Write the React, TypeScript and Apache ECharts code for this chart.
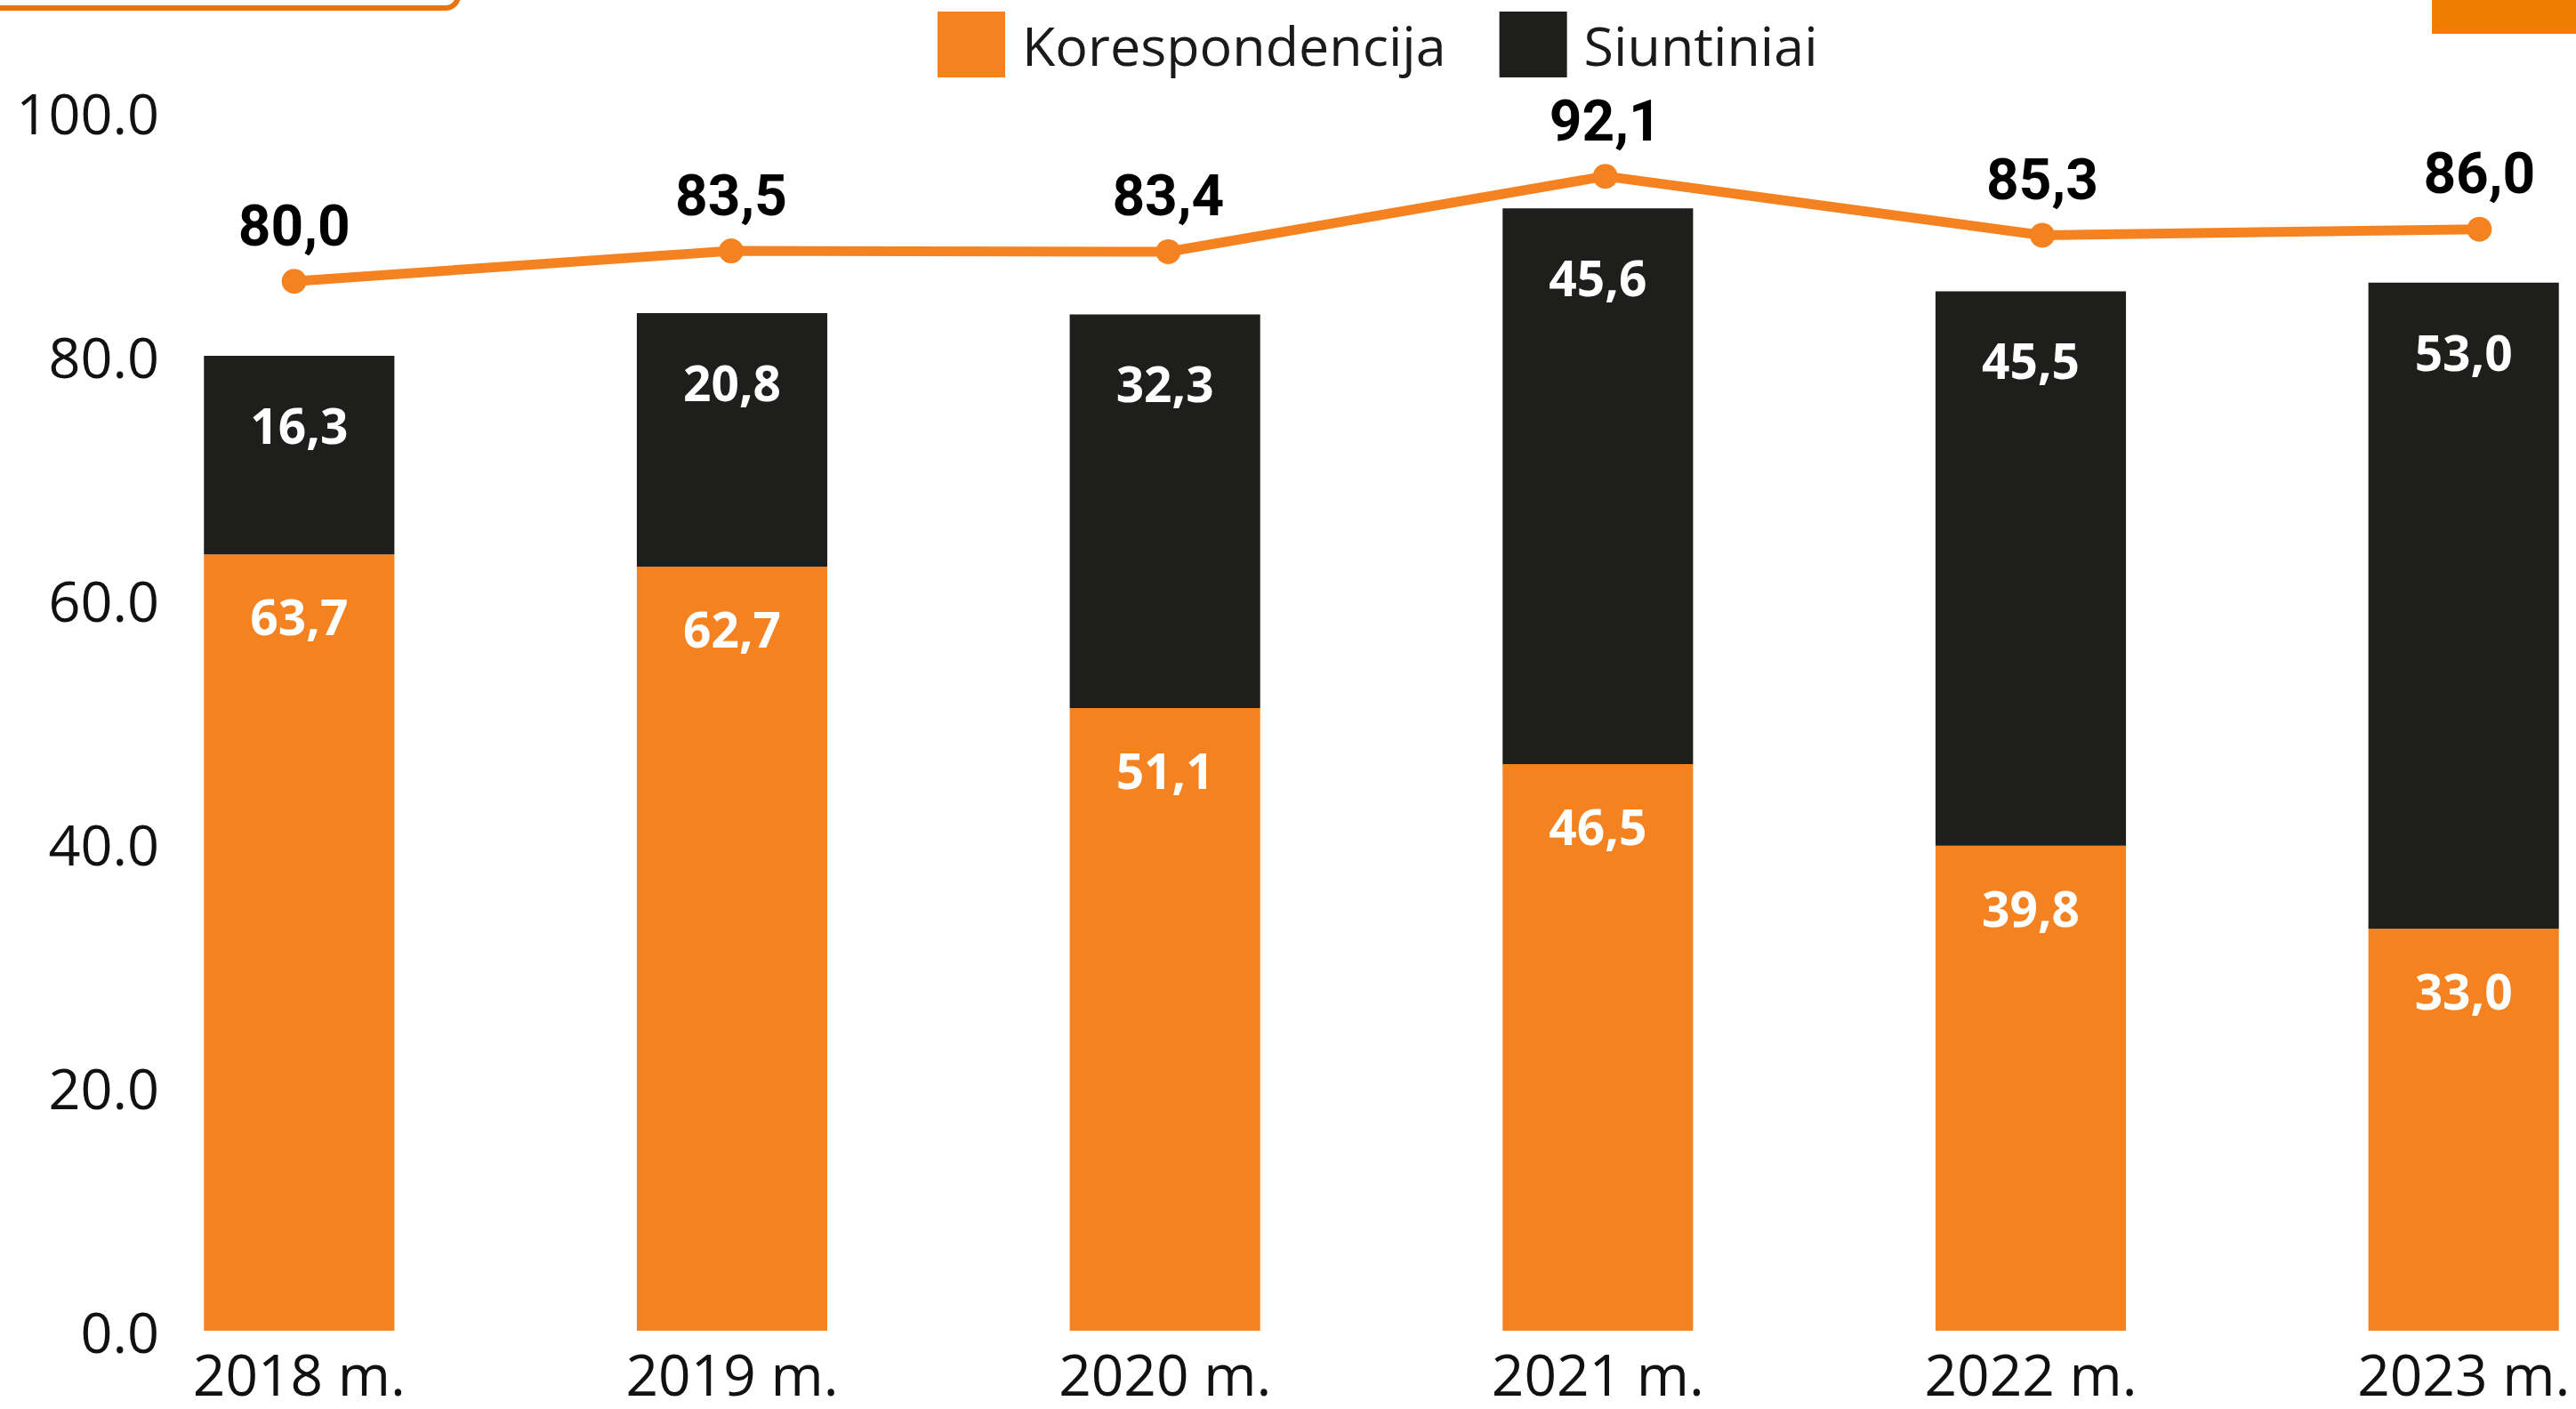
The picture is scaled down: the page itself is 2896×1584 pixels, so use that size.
import React, { useEffect, useRef } from "react";
import * as echarts from "echarts";

const categories = ["2018 m.", "2019 m.", "2020 m.", "2021 m.", "2022 m.", "2023 m."];
const korespondencija = [63.7, 62.7, 51.1, 46.5, 39.8, 33.0];
const siuntiniai = [16.3, 20.8, 32.3, 45.6, 45.5, 53.0];
const totals = [80.0, 83.5, 83.4, 92.1, 85.3, 86.0];
const yTicks = { min: 0, max: 100, interval: 20 };

const ORANGE = "#F58220";
const BLACK = "#1E1E1C";
const CHART_W = 3060;

const comma = (v: number) => v.toFixed(1).replace(".", ",");

export default function App() {
  const ref = useRef<HTMLDivElement>(null);
  useEffect(() => {
    if (!ref.current) return;
    const chart = echarts.init(ref.current, null, { renderer: "svg" });
    chart.setOption({
      animation: false,
      backgroundColor: "#ffffff",
      legend: {
        top: 8,
        left: 1049,
        itemWidth: 76,
        itemHeight: 74,
        itemGap: 60,
        icon: "rect",
        data: ["Korespondencija", "Siuntiniai"],
        textStyle: {
          fontFamily: "'Open Sans', sans-serif",
          fontSize: 61,
          color: "#1a1a1a",
          padding: [0, 0, 0, 14],
        },
      },
      grid: [
        { left: 93, width: 2920, top: 126, height: 1370, containLabel: false },
        { left: 85, width: 2948, top: 126, height: 1370, containLabel: false },
      ],
      xAxis: [
        {
          type: "category",
          gridIndex: 0,
          data: categories,
          axisLine: { show: false },
          axisTick: { show: false },
          axisLabel: {
            margin: 16,
            fontFamily: "'Open Sans', sans-serif",
            fontSize: 64,
            color: "#111",
          },
        },
        {
          type: "category",
          gridIndex: 1,
          data: categories,
          show: false,
        },
      ],
      yAxis: [
        {
          type: "value",
          gridIndex: 0,
          min: yTicks.min,
          max: yTicks.max,
          interval: yTicks.interval,
          offset: -94,
          splitLine: { show: false },
          axisLine: { show: false },
          axisTick: { show: false },
          axisLabel: {
            margin: 8,
            formatter: (v: number) => v.toFixed(1),
            fontFamily: "'Open Sans', sans-serif",
            fontSize: 63,
            color: "#111",
          },
        },
        {
          type: "value",
          gridIndex: 1,
          min: -41,
          max: 99.5,
          show: false,
          splitLine: { show: false },
        },
      ],
      series: [
        {
          name: "Korespondencija",
          type: "bar",
          stack: "total",
          barWidth: "44%",
          data: korespondencija,
          itemStyle: { color: ORANGE },
          label: {
            show: true,
            position: "insideTop",
            distance: 42,
            formatter: (p: any) => comma(p.value),
            color: "#ffffff",
            fontFamily: "'Open Sans', sans-serif",
            fontWeight: "bold",
            fontSize: 55,
          },
        },
        {
          name: "Siuntiniai",
          type: "bar",
          stack: "total",
          barWidth: "44%",
          data: siuntiniai,
          itemStyle: { color: BLACK },
          label: {
            show: true,
            position: "insideTop",
            distance: 50,
            formatter: (p: any) => comma(p.value),
            color: "#ffffff",
            fontFamily: "'Open Sans', sans-serif",
            fontWeight: "bold",
            fontSize: 55,
          },
        },
        {
          name: "Iš viso",
          type: "line",
          xAxisIndex: 1,
          yAxisIndex: 1,
          data: totals,
          z: 10,
          symbol: "circle",
          symbolSize: 28,
          lineStyle: { color: ORANGE, width: 11 },
          itemStyle: { color: ORANGE },
          label: {
            show: true,
            position: "top",
            distance: 16,
            formatter: (p: any) => comma(p.value),
            color: "#000000",
            fontFamily: "Roboto, 'Liberation Sans', sans-serif",
            fontWeight: "bold",
            fontSize: 64,
          },
        },
      ],
      graphic: [
        {
          type: "rect",
          left: -20,
          top: -100,
          shape: { width: 532, height: 106, r: 14 },
          style: { fill: "#ffffff", stroke: "#E8730F", lineWidth: 6 },
          z: 1,
        },
        {
          type: "rect",
          left: 2734,
          top: 0,
          shape: { width: 200, height: 38 },
          style: { fill: "#EF7D00" },
          z: 1,
        },
      ],
    });
    return () => chart.dispose();
  }, []);
  return (
    <div
      style={{
        position: "fixed",
        left: 0,
        top: 0,
        width: 2896,
        height: 1584,
        overflow: "hidden",
        background: "#fff",
      }}
    >
      <div ref={ref} style={{ width: CHART_W, height: 1584 }} />
    </div>
  );
}
